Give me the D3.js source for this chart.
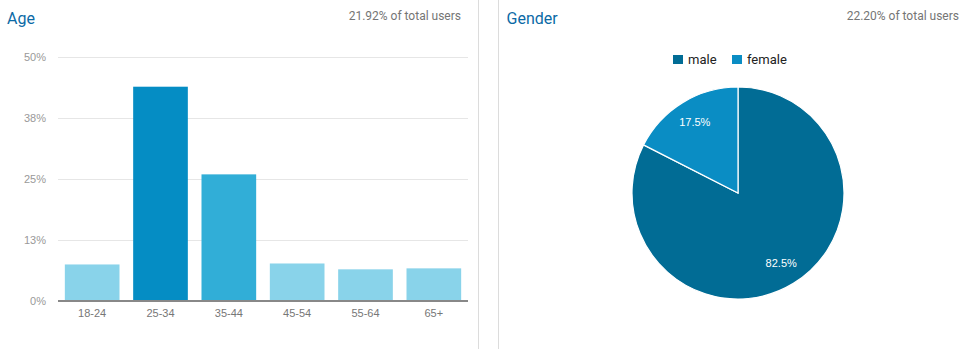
<!DOCTYPE html>
<html>
<head>
<meta charset="utf-8">
<script src="https://cdn.jsdelivr.net/npm/d3@7"></script>
<style>
  html, body { margin: 0; padding: 0; background: #fff; }
  svg { display: block; font-family: Roboto, "Noto Sans", Arial, sans-serif; }
</style>
</head>
<body>
<svg id="chart" width="973" height="349"></svg>
<script>
// Age distribution (share of users, %)
const ageGroups = ["18-24", "25-34", "35-44", "45-54", "55-64", "65+"];
const ageShare = [7.4, 43.9, 25.9, 7.6, 6.4, 6.6];
const ageColors = ["#89d3ea", "#058dc4", "#31aed7", "#89d3ea", "#89d3ea", "#89d3ea"];
const ageTicks = [0, 12.5, 25, 37.5, 50];

// Gender split (%)
const genders = ["male", "female"];
const genderShare = [82.5, 17.5];
const genderColors = ["#016c95", "#0a8dc4"];

const tickFont = "Arial, 'Liberation Sans', sans-serif";
const svg = d3.select("#chart");

// Panel dividers
[478.5, 498.5].forEach(x => {
  svg.append("line")
    .attr("x1", x).attr("x2", x).attr("y1", 0).attr("y2", 349)
    .attr("stroke", "#dcdcdc").attr("stroke-width", 1);
});

function header(x, title, subtitleRight, subtitle) {
  svg.append("text").attr("x", x).attr("y", 24)
    .attr("font-size", 16).attr("fill", "#0b6aa6").text(title);
  svg.append("text").attr("x", subtitleRight).attr("y", 20)
    .attr("text-anchor", "end").attr("font-size", 12).attr("fill", "#757575")
    .text(subtitle);
}

header(7, "Age", 461, "21.92% of total users");
header(506.5, "Gender", 959, "22.20% of total users");

// ---- Age bar chart ----
const x = d3.scaleBand().domain(ageGroups).range([58, 468])
  .paddingInner(0.2).paddingOuter(0.1);
const y = d3.scaleLinear().domain([0, 50]).range([300.5, 57]);

const grid = svg.append("g");
grid.selectAll("line").data(ageTicks.filter(t => t > 0)).join("line")
  .attr("x1", 58).attr("x2", 468)
  .attr("y1", d => Math.round(y(d)) + 0.5).attr("y2", d => Math.round(y(d)) + 0.5)
  .attr("stroke", "#e6e6e6");

const yAxis = d3.axisLeft(y).tickValues(ageTicks)
  .tickFormat(d => Math.round(d) + "%").tickSize(0).tickPadding(0);
const yg = svg.append("g").attr("transform", "translate(46,0)").call(yAxis);
yg.select(".domain").remove();
yg.selectAll("text").attr("font-size", 11).attr("fill", "#999")
  .attr("font-family", tickFont);

svg.append("g").selectAll("rect").data(ageGroups).join("rect")
  .attr("x", d => x(d))
  .attr("width", x.bandwidth())
  .attr("y", (d, i) => y(ageShare[i]))
  .attr("height", (d, i) => y(0) - y(ageShare[i]))
  .attr("fill", (d, i) => ageColors[i]);

svg.append("line").attr("x1", 58).attr("x2", 468)
  .attr("y1", 301).attr("y2", 301)
  .attr("stroke", "#888").attr("stroke-width", 2);

const xAxis = d3.axisBottom(x).tickSize(0).tickPadding(0);
const xg = svg.append("g").attr("transform", "translate(0,317)").call(xAxis);
xg.select(".domain").remove();
xg.selectAll("text").attr("font-size", 11).attr("fill", "#777").attr("dy", 0)
  .attr("font-family", tickFont);

// ---- Gender pie chart ----
const cx = 738, cy = 193, R = 106;
const pie = d3.pie().sort(null).value(d => d)(genderShare);
const arc = d3.arc().innerRadius(0).outerRadius(R);
const labelArc = d3.arc().innerRadius(R * 0.78).outerRadius(R * 0.78);
const pg = svg.append("g").attr("transform", `translate(${cx},${cy})`);
pg.selectAll("path").data(pie).join("path")
  .attr("d", arc)
  .attr("fill", (d, i) => genderColors[i])
  .attr("stroke", "#fff").attr("stroke-width", 1.2);
pg.selectAll("text").data(pie).join("text")
  .attr("transform", d => `translate(${labelArc.centroid(d)})`)
  .attr("text-anchor", "middle").attr("dy", "0.35em")
  .attr("font-size", 11).attr("fill", "#fff").attr("font-family", tickFont)
  .text(d => d.value.toFixed(1) + "%");

// Legend
const legendX = [673, 732];
const lg = svg.append("g");
genders.forEach((g, i) => {
  lg.append("rect").attr("x", legendX[i]).attr("y", 55)
    .attr("width", 10).attr("height", 9).attr("fill", genderColors[i]);
  lg.append("text").attr("x", legendX[i] + 15).attr("y", 64)
    .attr("font-size", 13).attr("fill", "#222").text(g);
});
</script>
</body>
</html>
